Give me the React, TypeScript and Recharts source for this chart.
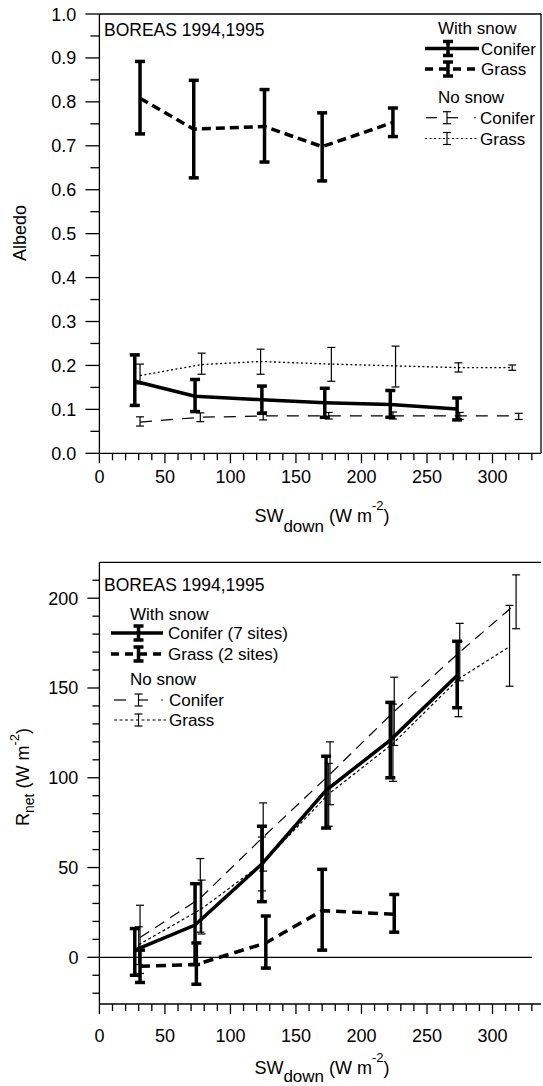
import React from 'react';
import { LineChart, Line, XAxis, YAxis, ErrorBar, ReferenceLine } from 'recharts';

// ---------- Top panel: Albedo vs SW_down ----------
const albConiferSnowX = [27, 73, 124, 172, 222, 273];
const albConiferSnowMean = [0.164, 0.130, 0.122, 0.115, 0.111, 0.101];
const albConiferSnowLow = [0.109, 0.095, 0.091, 0.082, 0.082, 0.076];
const albConiferSnowHigh = [0.224, 0.168, 0.153, 0.148, 0.143, 0.126];

const albGrassSnowX = [31, 72, 126, 170, 224];
const albGrassSnowMean = [0.808, 0.738, 0.744, 0.698, 0.753];
const albGrassSnowLow = [0.727, 0.627, 0.663, 0.620, 0.721];
const albGrassSnowHigh = [0.892, 0.849, 0.828, 0.775, 0.786];

const albConiferNoSnowX = [31, 77, 125, 175, 224, 275, 320];
const albConiferNoSnowMean = [0.071, 0.082, 0.085, 0.085, 0.085, 0.085, 0.085];
const albConiferNoSnowLow = [0.062, 0.072, 0.076, 0.078, 0.078, 0.077, 0.077];
const albConiferNoSnowHigh = [0.083, 0.092, 0.094, 0.093, 0.094, 0.093, 0.091];

const albGrassNoSnowX = [31, 78, 123, 177, 226, 274, 315];
const albGrassNoSnowMean = [0.177, 0.202, 0.209, 0.203, 0.199, 0.195, 0.195];
const albGrassNoSnowLow = [0.158, 0.180, 0.180, 0.164, 0.151, 0.185, 0.189];
const albGrassNoSnowHigh = [0.203, 0.228, 0.237, 0.241, 0.244, 0.206, 0.201];

// ---------- Bottom panel: Rnet vs SW_down ----------
const rnConiferSnowX = [27, 73, 124, 173, 222, 273];
const rnConiferSnowMean = [4, 18, 52, 93, 121, 157];
const rnConiferSnowLow = [-10, -4, 31, 72, 100, 139];
const rnConiferSnowHigh = [16, 41, 73, 112, 142, 176];

const rnGrassSnowX = [31, 74, 127, 170, 225];
const rnGrassSnowMean = [-5, -4, 8, 26, 24];
const rnGrassSnowLow = [-14, -15, -6, 4, 14];
const rnGrassSnowHigh = [4, 8, 23, 49, 35];

const rnConiferNoSnowX = [31, 77, 125, 176, 225, 275, 318];
const rnConiferNoSnowMean = [11, 33, 67, 102, 137, 170, 197];
const rnConiferNoSnowLow = [-9, 14, 48, 85, 118, 154, 183];
const rnConiferNoSnowHigh = [29, 55, 86, 120, 156, 186, 213];

const rnGrassNoSnowX = [30, 78, 124, 175, 224, 274, 313];
const rnGrassNoSnowMean = [7, 27, 52, 91, 119, 155, 173];
const rnGrassNoSnowLow = [-4, 13, 37, 73, 98, 134, 151];
const rnGrassNoSnowHigh = [17, 43, 67, 108, 141, 176, 196];

// ---------- Ticks ----------
const xMajorTicks = [0, 50, 100, 150, 200, 250, 300];
const xMinorTicks = [10, 20, 30, 40, 60, 70, 80, 90, 110, 120, 130, 140, 160, 170, 180, 190, 210, 220, 230, 240, 260, 270, 280, 290, 310, 320, 330];
const albMajorTicks = [0, 0.1, 0.2, 0.3, 0.4, 0.5, 0.6, 0.7, 0.8, 0.9, 1.0];
const albMajorLabels = ['0.0', '0.1', '0.2', '0.3', '0.4', '0.5', '0.6', '0.7', '0.8', '0.9', '1.0'];
const albMinorTicks = [0.05, 0.15, 0.25, 0.35, 0.45, 0.55, 0.65, 0.75, 0.85, 0.95];
const rnMajorTicks = [0, 50, 100, 150, 200];
const rnMajorLabels = ['0', '50', '100', '150', '200'];
const rnMinorTicks = [-20, -10, 10, 20, 30, 40, 60, 70, 80, 90, 110, 120, 130, 140, 160, 170, 180, 190, 210];

const FONT = '"Liberation Sans", Arial, Helvetica, sans-serif';

function build(xs: number[], mean: number[], lo: number[], hi: number[]) {
  return xs.map((x, i) => ({ x, y: mean[i], err: [mean[i] - lo[i], hi[i] - mean[i]] }));
}

const albConiferSnow = build(albConiferSnowX, albConiferSnowMean, albConiferSnowLow, albConiferSnowHigh);
const albGrassSnow = build(albGrassSnowX, albGrassSnowMean, albGrassSnowLow, albGrassSnowHigh);
const albConiferNoSnow = build(albConiferNoSnowX, albConiferNoSnowMean, albConiferNoSnowLow, albConiferNoSnowHigh);
const albGrassNoSnow = build(albGrassNoSnowX, albGrassNoSnowMean, albGrassNoSnowLow, albGrassNoSnowHigh);
const rnConiferSnow = build(rnConiferSnowX, rnConiferSnowMean, rnConiferSnowLow, rnConiferSnowHigh);
const rnGrassSnow = build(rnGrassSnowX, rnGrassSnowMean, rnGrassSnowLow, rnGrassSnowHigh);
const rnConiferNoSnow = build(rnConiferNoSnowX, rnConiferNoSnowMean, rnConiferNoSnowLow, rnConiferNoSnowHigh);
const rnGrassNoSnow = build(rnGrassNoSnowX, rnGrassNoSnowMean, rnGrassNoSnowLow, rnGrassNoSnowHigh);

const makeXTick = (labelDy: number) => (props: any) => {
  const { x, y, payload } = props;
  const v = payload.value;
  const isMajor = xMajorTicks.includes(v);
  return (
    <g>
      <line x1={x} x2={x} y1={y} y2={y + (isMajor ? 10 : 7)} stroke="#000" strokeWidth={1.3} />
      {isMajor && (
        <text x={x} y={y + labelDy} textAnchor="middle" fontSize={18} fontFamily={FONT} fill="#000">
          {String(v)}
        </text>
      )}
    </g>
  );
};

const makeYTick = (majors: number[], labels: string[], majorLen: number, minorLen: number, gap: number) => (props: any) => {
  const { x, y, payload } = props;
  const idx = majors.indexOf(payload.value);
  const isMajor = idx >= 0;
  return (
    <g>
      <line x1={x - (isMajor ? majorLen : minorLen)} x2={x} y1={y} y2={y} stroke="#000" strokeWidth={1.3} />
      {isMajor && (
        <text x={x - gap} y={y + 6.5} textAnchor="end" fontSize={18} fontFamily={FONT} fill="#000">
          {labels[idx]}
        </text>
      )}
    </g>
  );
};

const BLACK = '#000';

function ThickBar({ x, y, h }: { x: number; y: number; h: number }) {
  return (
    <g stroke={BLACK} strokeWidth={3.5}>
      <line x1={x} x2={x} y1={y - h} y2={y + h} />
      <line x1={x - 5} x2={x + 5} y1={y - h} y2={y - h} />
      <line x1={x - 5} x2={x + 5} y1={y + h} y2={y + h} />
    </g>
  );
}
function ThinBar({ x, y, h }: { x: number; y: number; h: number }) {
  return (
    <g stroke={BLACK} strokeWidth={1.2}>
      <line x1={x} x2={x} y1={y - h} y2={y + h} />
      <line x1={x - 4} x2={x + 4} y1={y - h} y2={y - h} />
      <line x1={x - 4} x2={x + 4} y1={y + h} y2={y + h} />
    </g>
  );
}

function Overlay() {
  const t = { fontSize: 17, fontFamily: FONT, fill: BLACK } as const;
  return (
    <svg width={543} height={1086} style={{ position: 'absolute', left: 0, top: 0, pointerEvents: 'none' }}>
      {/* Top panel annotations */}
      <text x={104} y={35.5} {...t} fontSize={17.5}>BOREAS 1994,1995</text>
      <text x={438} y={33.5} {...t}>With snow</text>
      <line x1={425} x2={479} y1={48.5} y2={48.5} stroke={BLACK} strokeWidth={3.5} />
      <ThickBar x={448} y={48.5} h={7} />
      <text x={481} y={54.5} {...t}>Conifer</text>
      <line x1={425} x2={479} y1={69} y2={69} stroke={BLACK} strokeWidth={3.5} strokeDasharray="8 6" />
      <ThickBar x={448} y={69} h={7} />
      <text x={481} y={75} {...t}>Grass</text>
      <text x={438} y={103} {...t}>No snow</text>
      <line x1={426} x2={437} y1={117.7} y2={117.7} stroke={BLACK} strokeWidth={1.2} />
      <line x1={447} x2={458} y1={117.7} y2={117.7} stroke={BLACK} strokeWidth={1.2} />
      <ThinBar x={447} y={117.7} h={6} />
      <circle cx={475} cy={117.7} r={0.8} fill={BLACK} />
      <text x={480} y={123.7} {...t}>Conifer</text>
      <line x1={425} x2={478} y1={138.5} y2={138.5} stroke={BLACK} strokeWidth={1.2} strokeDasharray="2 2.5" />
      <ThinBar x={447} y={138.5} h={6} />
      <text x={480} y={144.5} {...t}>Grass</text>

      <text transform="translate(26,233) rotate(-90)" textAnchor="middle" fontSize={18} fontFamily={FONT} fill={BLACK}>Albedo</text>

      <text x={322} y={522} textAnchor="middle" fontSize={18} fontFamily={FONT} fill={BLACK}>
        SW<tspan fontSize={17} dy={10}>down</tspan>
        <tspan dy={-10}> (W m</tspan>
        <tspan fontSize={13} dy={-12}>-2</tspan>
        <tspan dy={12}>)</tspan>
      </text>

      {/* Bottom panel annotations */}
      <text x={104} y={591} {...t} fontSize={17.5}>BOREAS 1994,1995</text>
      <text x={130} y={619.6} {...t}>With snow</text>
      <line x1={111} x2={163} y1={633} y2={633} stroke={BLACK} strokeWidth={3.5} />
      <ThickBar x={138.5} y={633} h={7} />
      <text x={168} y={639} {...t}>Conifer (7 sites)</text>
      <line x1={111} x2={163} y1={654} y2={654} stroke={BLACK} strokeWidth={3.5} strokeDasharray="8 6" />
      <ThickBar x={138.5} y={654} h={7} />
      <text x={168} y={660} {...t}>Grass (2 sites)</text>
      <text x={130} y={685} {...t}>No snow</text>
      <line x1={114} x2={126} y1={700} y2={700} stroke={BLACK} strokeWidth={1.2} />
      <line x1={138} x2={148} y1={700} y2={700} stroke={BLACK} strokeWidth={1.2} />
      <ThinBar x={138.5} y={700} h={6} />
      <circle cx={162} cy={700} r={0.8} fill={BLACK} />
      <text x={169} y={706} {...t}>Conifer</text>
      <line x1={114} x2={166} y1={720} y2={720} stroke={BLACK} strokeWidth={1.2} strokeDasharray="3 2.5" />
      <ThinBar x={138.5} y={720} h={6} />
      <text x={169} y={726} {...t}>Grass</text>

      <text transform="translate(29,777) rotate(-90)" textAnchor="middle" fontSize={18} fontFamily={FONT} fill={BLACK}>
        R<tspan fontSize={14} dy={5}>net</tspan>
        <tspan dy={-5}> (W m</tspan>
        <tspan fontSize={13} dy={-10}>-2</tspan>
        <tspan dy={10}>)</tspan>
      </text>

      <text x={322} y={1074} textAnchor="middle" fontSize={18} fontFamily={FONT} fill={BLACK}>
        SW<tspan fontSize={17} dy={8}>down</tspan>
        <tspan dy={-8}> (W m</tspan>
        <tspan fontSize={13} dy={-12}>-2</tspan>
        <tspan dy={12}>)</tspan>
      </text>
    </svg>
  );
}

const axisLine = { stroke: BLACK, strokeWidth: 1.3 };

export default function App() {
  return (
    <div style={{ position: 'absolute', left: 0, top: 0, width: 543, height: 1086, background: '#fff', overflow: 'hidden' }}>
      <div style={{ position: 'absolute', left: 0, top: 0 }}>
        <LineChart width={543} height={540} margin={{ top: 14, right: 2, bottom: 0, left: 0 }}>
          <XAxis
            type="number"
            dataKey="x"
            domain={[0, 337]}
            allowDataOverflow
            ticks={[...xMajorTicks, ...xMinorTicks]}
            interval={0}
            tickSize={0}
            tickMargin={0}
            tickLine={false}
            axisLine={axisLine}
            height={86.7}
            tick={makeXTick(30)}
          />
          <YAxis
            type="number"
            domain={[0, 1]}
            allowDataOverflow
            ticks={[...albMajorTicks, ...albMinorTicks]}
            interval={0}
            tickSize={0}
            tickMargin={0}
            tickLine={false}
            axisLine={axisLine}
            width={99.4}
            tick={makeYTick(albMajorTicks, albMajorLabels, 14, 9, 23)}
          />
          <ReferenceLine y={1} stroke={BLACK} strokeWidth={1.3} />
          <ReferenceLine x={337} stroke={BLACK} strokeWidth={1.3} />
          <Line data={albConiferNoSnow} dataKey="y" stroke={BLACK} strokeWidth={1.2} strokeDasharray="12 9" dot={false} activeDot={false} isAnimationActive={false}>
            <ErrorBar dataKey="err" direction="y" width={4} stroke={BLACK} strokeWidth={1.2} isAnimationActive={false} />
          </Line>
          <Line data={albGrassNoSnow} dataKey="y" stroke={BLACK} strokeWidth={1.3} strokeDasharray="2 2.5" dot={false} activeDot={false} isAnimationActive={false}>
            <ErrorBar dataKey="err" direction="y" width={4} stroke={BLACK} strokeWidth={1.2} isAnimationActive={false} />
          </Line>
          <Line data={albGrassSnow} dataKey="y" stroke={BLACK} strokeWidth={3.5} strokeDasharray="9 5" dot={false} activeDot={false} isAnimationActive={false}>
            <ErrorBar dataKey="err" direction="y" width={5} stroke={BLACK} strokeWidth={3.5} isAnimationActive={false} />
          </Line>
          <Line data={albConiferSnow} dataKey="y" stroke={BLACK} strokeWidth={3.5} dot={false} activeDot={false} isAnimationActive={false}>
            <ErrorBar dataKey="err" direction="y" width={5} stroke={BLACK} strokeWidth={3.5} isAnimationActive={false} />
          </Line>
        </LineChart>
      </div>
      <div style={{ position: 'absolute', left: 0, top: 540 }}>
        <LineChart width={543} height={546} margin={{ top: 22.3, right: 2, bottom: 0, left: 0 }}>
          <XAxis
            type="number"
            dataKey="x"
            domain={[0, 337]}
            allowDataOverflow
            ticks={[...xMajorTicks, ...xMinorTicks]}
            interval={0}
            tickSize={0}
            tickMargin={0}
            tickLine={false}
            axisLine={axisLine}
            height={82}
            tick={makeXTick(38)}
          />
          <YAxis
            type="number"
            domain={[-26, 220]}
            allowDataOverflow
            ticks={[...rnMajorTicks, ...rnMinorTicks]}
            interval={0}
            tickSize={0}
            tickMargin={0}
            tickLine={false}
            axisLine={axisLine}
            width={99.4}
            tick={makeYTick(rnMajorTicks, rnMajorLabels, 12, 7, 21)}
          />
          <ReferenceLine y={220} stroke={BLACK} strokeWidth={1.3} />
          <ReferenceLine segment={[{ x: 0, y: 0 }, { x: 330, y: 0 }]} stroke={BLACK} strokeWidth={1.3} />
          <Line data={rnConiferNoSnow} dataKey="y" stroke={BLACK} strokeWidth={1.2} strokeDasharray="11 7" dot={false} activeDot={false} isAnimationActive={false}>
            <ErrorBar dataKey="err" direction="y" width={4} stroke={BLACK} strokeWidth={1.2} isAnimationActive={false} />
          </Line>
          <Line data={rnGrassNoSnow} dataKey="y" stroke={BLACK} strokeWidth={1.2} strokeDasharray="3 2.5" dot={false} activeDot={false} isAnimationActive={false}>
            <ErrorBar dataKey="err" direction="y" width={4} stroke={BLACK} strokeWidth={1.2} isAnimationActive={false} />
          </Line>
          <Line data={rnGrassSnow} dataKey="y" stroke={BLACK} strokeWidth={3.5} strokeDasharray="10 6" dot={false} activeDot={false} isAnimationActive={false}>
            <ErrorBar dataKey="err" direction="y" width={5} stroke={BLACK} strokeWidth={3.5} isAnimationActive={false} />
          </Line>
          <Line data={rnConiferSnow} dataKey="y" stroke={BLACK} strokeWidth={3.5} dot={false} activeDot={false} isAnimationActive={false}>
            <ErrorBar dataKey="err" direction="y" width={5} stroke={BLACK} strokeWidth={3.5} isAnimationActive={false} />
          </Line>
        </LineChart>
      </div>
      <Overlay />
    </div>
  );
}
